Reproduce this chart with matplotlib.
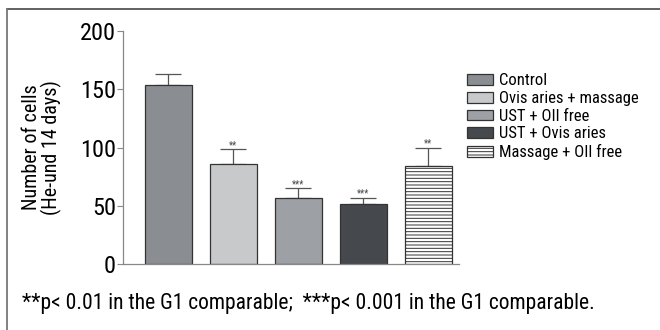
import matplotlib.pyplot as plt
import numpy as np

groups = ['Control', 'Ovis aries + massage', 'UST + OIl free', 'UST + Ovis aries', 'Massage + OIl free']
means = [153.5, 85.5, 57, 51.5, 84.5]
errors = [9.5, 13, 8, 5.5, 15.5]
stars = ['', '**', '***', '***', '**']

colors = ['#8a8e92', '#c7c9cb', '#9da1a5', '#45494e', 'white']
hatches = [None, None, None, None, '-----']

plt.rcParams['font.family'] = ['Roboto Condensed', 'DejaVu Sans']
plt.rcParams['font.stretch'] = 'condensed'
plt.rcParams['hatch.linewidth'] = 0.7
plt.rcParams['hatch.color'] = '#666666'

fig = plt.figure(figsize=(6.6, 3.3), dpi=100)
ax = fig.add_axes([0.186, 0.2, 0.509, 0.706])

x = np.arange(len(groups))
for i in range(len(groups)):
    ax.bar(x[i], means[i], width=0.72, color=colors[i], edgecolor='#333333',
           linewidth=0.9, hatch=hatches[i], label=groups[i], zorder=2)
    ax.errorbar(x[i], means[i], yerr=[[0], [errors[i]]], fmt='none',
                ecolor='#555555', elinewidth=0.9, capsize=9.5, capthick=0.9, zorder=1)
    if stars[i]:
        ax.text(x[i], means[i] + errors[i] - 1, stars[i], ha='center', va='bottom',
                fontsize=7, color='#444444')

ax.set_xlim(-0.70, 4.47)
ax.set_ylim(0, 200)
ax.set_yticks([0, 50, 100, 150, 200])
ax.set_xticks([])
ax.tick_params(axis='y', labelsize=17.5, length=4, color='#888888', pad=1)
for s in ['top', 'right']:
    ax.spines[s].set_visible(False)
for s in ['left', 'bottom']:
    ax.spines[s].set_color('#888888')
    ax.spines[s].set_linewidth(0.9)
ax.set_ylabel('Number of cells\n(He-und 14 days)', fontsize=14.5, linespacing=1.0, labelpad=13)

ax.legend(loc='upper left', bbox_to_anchor=(1.024, 0.818), frameon=False, fontsize=12,
          handlelength=1.6, handleheight=0.6, handletextpad=0.36, labelspacing=0.16,
          borderaxespad=0, borderpad=0)

fig.text(0.033, 0.08, '**p< 0.01 in the G1 comparable;  ***p< 0.001 in the G1 comparable.',
         fontsize=15.5, va='center', ha='left')

# outer frame (top and left)
fig.add_artist(plt.Line2D([0.0106, 1], [0.973, 0.973], color='#555555', linewidth=1.3))
fig.add_artist(plt.Line2D([0.0106, 0.0106], [0, 0.973], color='#777777', linewidth=1.3))

plt.savefig('out.png', dpi=100)
plt.close()
